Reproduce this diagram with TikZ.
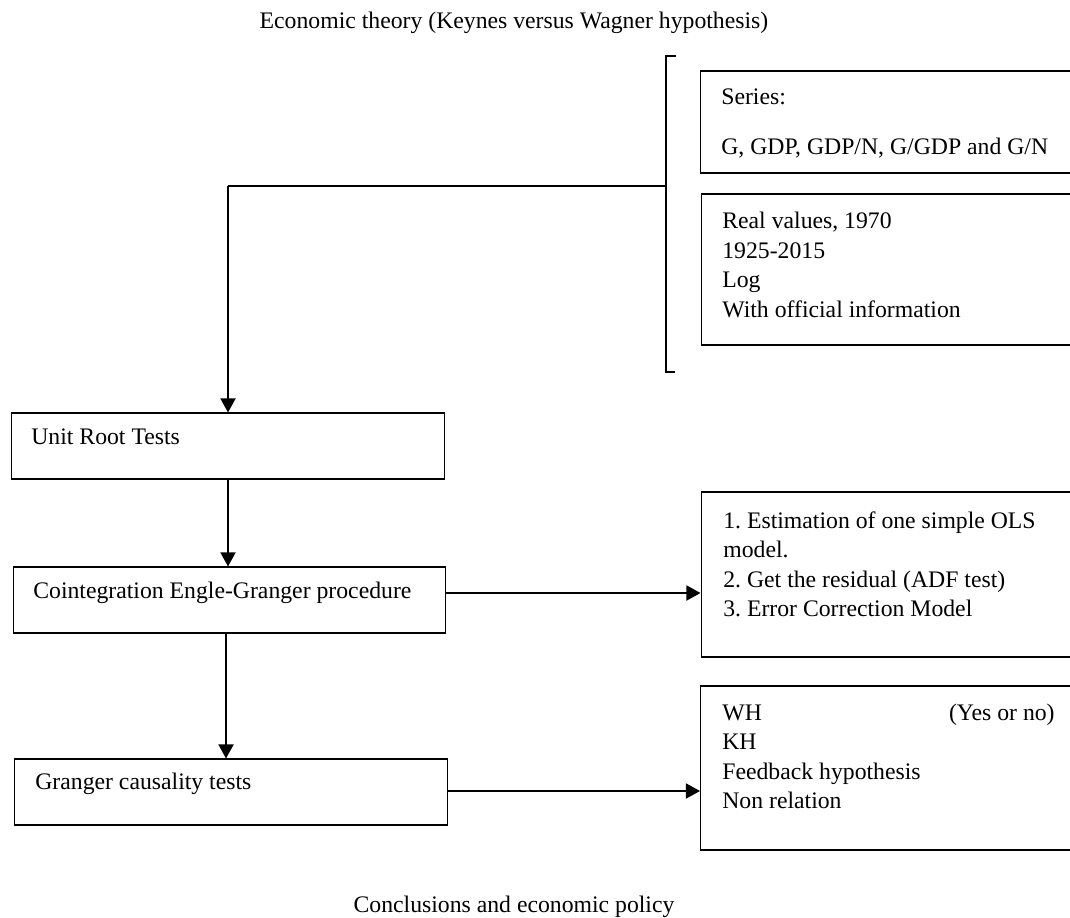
\documentclass[tikz,border=0pt]{standalone}
\usepackage{fontspec}
\setmainfont{Liberation Serif}
\usetikzlibrary{arrows.meta}
\frenchspacing

\begin{document}
\begin{tikzpicture}[x=0.02cm,y=-0.02cm,
        box/.style={draw,line width=0.6pt,inner sep=0pt},
        txt/.style={inner sep=0pt,font=\fontsize{13.5}{16.7}\selectfont},
        flow/.style={line width=1.2pt,-{Triangle[length=8pt,width=8.5pt]}}]
        % frame
        \clip (0,0) rectangle (1070,918);
        \fill[white] (0,0) rectangle (1070,918);
        % title and end
        \node[txt,anchor=base] (theory) at (514,29) {Economic theory (Keynes versus Wagner hypothesis)};
        \node[txt,anchor=base] (policy) at (514,912) {Conclusions and economic policy};
        % data boxes
        \node[box,minimum width=8cm,minimum height=2.04cm] (series) at (900,122) {};
        \node[txt,anchor=base west,align=left] (seriestxt) at (721,155) {Series:\\[12.2pt] G, GDP, GDP/N, G/GDP and G/N};
        \node[box,minimum width=8cm,minimum height=3.02cm] (real) at (901,269.5) {};
        \node[txt,anchor=base west,align=left] (realtxt) at (722,317) {Real values, 1970\\ 1925-2015\\ Log\\ With official information};
        % bracket
        \coordinate (brtop) at (666,56);
        \coordinate (brmid) at (666,186);
        \coordinate (brbot) at (666,372);
        \draw[line width=0.6pt] (676,56) -- (brtop) -- (brbot) -- (675,372);
        % steps
        \node[box,minimum width=8.68cm,minimum height=1.32cm] (unit) at (228,446) {};
        \node[txt,anchor=base west] (unittxt) at (31,444) {Unit Root Tests};
        \node[box,minimum width=8.66cm,minimum height=1.32cm] (coint) at (229.5,600) {};
        \node[txt,anchor=base west] (cointtxt) at (33,598) {Cointegration Engle-Granger procedure};
        \node[box,minimum width=8.68cm,minimum height=1.32cm] (granger) at (231,792) {};
        \node[txt,anchor=base west] (grangertxt) at (35,789) {Granger causality tests};
        % results
        \node[box,minimum width=7.96cm,minimum height=3.3cm] (ols) at (900,574.5) {};
        \node[txt,anchor=base west,align=left] (olstxt) at (723,616.5) {1. Estimation of one simple OLS\\ model.\\ 2. Get the residual (ADF test)\\ 3. Error Correction Model};
        \node[box,minimum width=7.98cm,minimum height=3.28cm] (wh) at (900,768) {};
        \node[txt,anchor=base west,align=left] (whtxt) at (722,808.5) {WH\\ KH\\ Feedback hypothesis\\ Non relation};
        \node[txt,anchor=base east] (yesno) at (1055,720) {(Yes or no)};
        % connectors
        \coordinate (turn) at (brmid -| unit.north);
        \draw[line width=0.6pt] (brmid) -- (turn);
        \draw[flow] (turn) -- (unit.north);
        \draw[flow] (unit.south) -- (coint.north -| unit.south);
        \draw[flow] (coint.south -| 226,0) -- (granger.north -| 226,0);
        \draw[flow] ([yshift=0.14cm]coint.east) -- ([yshift=0.14cm]coint.east -| ols.west);
        \draw[flow] ([yshift=0.02cm]granger.east) -- ([yshift=0.02cm]granger.east -| wh.west);
\end{tikzpicture}
\end{document}
